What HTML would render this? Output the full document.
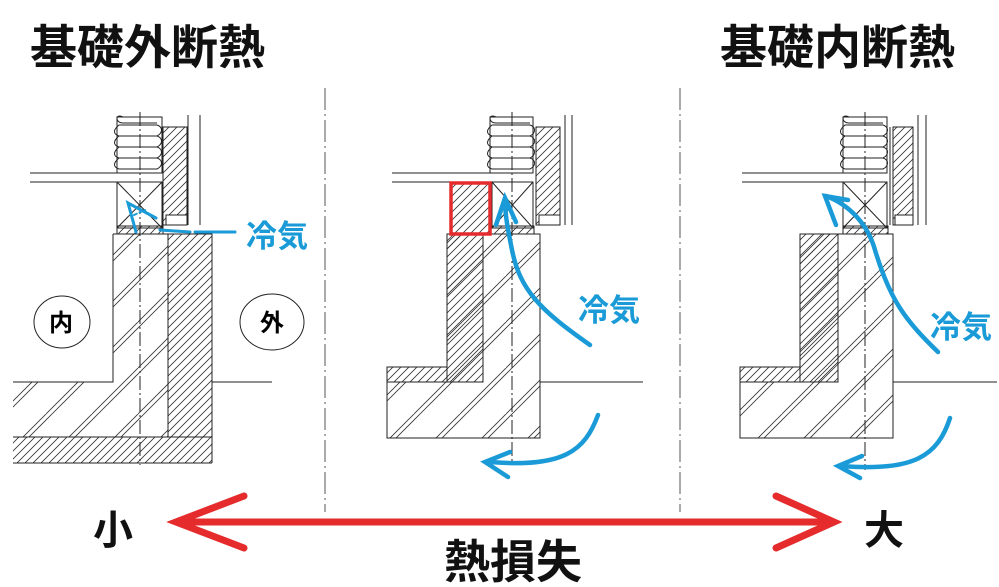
<!DOCTYPE html>
<html><head><meta charset="utf-8"><style>
html,body{margin:0;padding:0;background:#fff;}
svg{display:block}
text{font-family:"Liberation Sans","Noto Sans CJK JP",sans-serif;font-weight:bold}
</style></head><body>
<svg width="999" height="587" viewBox="0 0 999 587" xmlns="http://www.w3.org/2000/svg">
<defs>
<pattern id="h" patternUnits="userSpaceOnUse" width="8" height="8">
<path d="M-2,10 L10,-2 M-2,2 L2,-2 M6,10 L10,6" stroke="#333" stroke-width="0.8"/>
</pattern>
<pattern id="s" patternUnits="userSpaceOnUse" width="46" height="46">
<path d="M-4,50 L50,-4 M-1,53 L53,-1 M-50,50 L50,-50 M-47,53 L53,-47 M0,96 L96,0 M3,99 L99,3" stroke="#333" stroke-width="0.8"/>
</pattern>
</defs>

<g fill="none" stroke="#222" stroke-width="1">
<line x1="325" y1="88" x2="325" y2="512" stroke-dasharray="22,4,2,4" stroke="#555"/>
<line x1="680" y1="88" x2="680" y2="512" stroke-dasharray="22,4,2,4" stroke="#555"/>

<!-- PANEL 1 -->
<path d="M123,117 c-8,-4 -8,6 0,6 h34 M119,125 c-6,5 -6,9 0,11 h38 c6,-3 6,-9 0,-11 z M119,136 c-6,5 -6,9 0,11 h38 c6,-3 6,-9 0,-11 z M119,147 c-6,5 -6,9 0,11 h38 c6,-3 6,-9 0,-11 z M119,158 c-6,5 -6,9 0,11 h38 c6,-3 6,-9 0,-11 z"/>
<rect x="117" y="117" width="45" height="56"/>
<line x1="30" y1="173" x2="162" y2="173"/><line x1="30" y1="182" x2="162" y2="182"/>
<rect x="117" y="182" width="45" height="46"/>
<path d="M117,182 L162,228 M162,182 L117,228"/>
<rect x="117" y="226" width="46" height="8" fill="url(#h)"/>
<rect x="163" y="127" width="24" height="98" fill="url(#h)"/>
<rect x="166" y="215" width="21" height="10" fill="#fff"/>
<line x1="188" y1="115" x2="188" y2="225"/><line x1="200" y1="115" x2="200" y2="225"/>
<rect x="113" y="234" width="55" height="203" fill="url(#s)" stroke="none"/>
<rect x="13" y="382" width="100" height="55" fill="url(#s)" stroke="none"/>
<rect x="168" y="234" width="44" height="203" fill="url(#h)"/>
<path d="M113,234 H212 V437 M113,234 V382 H13"/>
<rect x="13" y="437" width="199" height="26" fill="url(#h)" stroke="none"/>
<line x1="13" y1="437" x2="212" y2="437"/><line x1="13" y1="463" x2="212" y2="463"/><line x1="212" y1="437" x2="212" y2="463"/>
<line x1="212" y1="382" x2="272" y2="382"/>
<line x1="140" y1="112" x2="140" y2="465" stroke-dasharray="14,3,2,3"/>
<ellipse cx="62" cy="322" rx="28" ry="26" fill="#fff"/>
<ellipse cx="272" cy="322" rx="32" ry="28" fill="#fff"/>

<!-- PANEL 2 -->
<path d="M496,117 c-8,-4 -8,6 0,6 h34 M492,125 c-6,5 -6,9 0,11 h38 c6,-3 6,-9 0,-11 z M492,136 c-6,5 -6,9 0,11 h38 c6,-3 6,-9 0,-11 z M492,147 c-6,5 -6,9 0,11 h38 c6,-3 6,-9 0,-11 z M492,158 c-6,5 -6,9 0,11 h38 c6,-3 6,-9 0,-11 z"/>
<line x1="392" y1="173" x2="533" y2="173"/><line x1="392" y1="182" x2="533" y2="182"/>
<rect x="490" y="117" width="43" height="56"/>
<rect x="492" y="182" width="41" height="46"/>
<path d="M492,182 L533,228 M533,182 L492,228"/>
<rect x="450" y="182" width="41" height="52" fill="url(#h)" stroke="none"/>
<rect x="490" y="226" width="44" height="8" fill="url(#h)"/>
<rect x="536" y="127" width="24" height="98" fill="url(#h)"/>
<rect x="539" y="215" width="21" height="10" fill="#fff"/>
<line x1="565" y1="115" x2="565" y2="225"/><line x1="572" y1="115" x2="572" y2="225"/>
<rect x="387" y="382" width="60" height="56" fill="url(#s)" stroke="none"/>
<rect x="447" y="234" width="93" height="204" fill="url(#s)" stroke="none"/>
<path d="M447,382 V234 H540 V438 H387 V367 H447"/>
<rect x="447" y="234" width="36" height="148" fill="url(#h)"/>
<rect x="387" y="367" width="60" height="15" fill="url(#h)"/>
<line x1="540" y1="382" x2="643" y2="382"/>
<line x1="512" y1="112" x2="512" y2="462" stroke-dasharray="14,3,2,3"/>
<rect x="451" y="183" width="39" height="51" stroke="#e52b2b" stroke-width="3.5"/>

<!-- PANEL 3 -->
<path d="M849,117 c-8,-4 -8,6 0,6 h34 M845,125 c-6,5 -6,9 0,11 h38 c6,-3 6,-9 0,-11 z M845,136 c-6,5 -6,9 0,11 h38 c6,-3 6,-9 0,-11 z M845,147 c-6,5 -6,9 0,11 h38 c6,-3 6,-9 0,-11 z M845,158 c-6,5 -6,9 0,11 h38 c6,-3 6,-9 0,-11 z"/>
<rect x="843" y="117" width="44" height="56"/>
<line x1="742" y1="173" x2="887" y2="173"/><line x1="742" y1="182" x2="887" y2="182"/>
<rect x="843" y="182" width="44" height="46"/>
<path d="M843,182 L887,228 M887,182 L843,228"/>
<rect x="843" y="226" width="45" height="8" fill="url(#h)"/>
<line x1="890" y1="127" x2="890" y2="225"/>
<rect x="893" y="127" width="20" height="98" fill="url(#h)"/>
<rect x="895" y="215" width="18" height="10" fill="#fff"/>
<line x1="918" y1="115" x2="918" y2="225"/><line x1="926" y1="115" x2="926" y2="225"/>
<rect x="740" y="382" width="60" height="56" fill="url(#s)" stroke="none"/>
<rect x="800" y="234" width="93" height="204" fill="url(#s)" stroke="none"/>
<path d="M800,382 V234 H893 V438 H740 V367 H800"/>
<rect x="800" y="234" width="38" height="148" fill="url(#h)"/>
<rect x="740" y="367" width="60" height="15" fill="url(#h)"/>
<line x1="893" y1="382" x2="997" y2="382"/>
<line x1="865" y1="112" x2="865" y2="470" stroke-dasharray="14,3,2,3"/>
</g>

<g fill="none" stroke="#1a9bd7" stroke-linecap="round">
<path d="M235,232 H195 M190,232 L160,230" stroke-width="3" stroke-dasharray="40,6,12,5"/>
<path d="M136,232 L128,203 L156,218" stroke-width="3"/>
<path d="M134,215 L145,210" stroke-width="2" stroke-dasharray="3,3"/>
<path d="M590,345 C540,310 520,290 512,250 C508,230 505,215 505,200" stroke-width="4.5"/>
<path d="M496,225 L505,198 L516,222" stroke-width="4.5"/>
<path d="M598,415 C585,450 565,468 490,462" stroke-width="4.5"/>
<path d="M510,452 L485,462 L508,477" stroke-width="4.5"/>
<path d="M938,352 C905,320 890,300 875,250 C868,225 850,205 826,196" stroke-width="4.5"/>
<path d="M836,225 L825,196 L848,200" stroke-width="4.5"/>
<path d="M950,418 C938,455 915,472 842,466" stroke-width="4.5"/>
<path d="M862,456 L838,466 L860,478" stroke-width="4.5"/>
</g>

<g fill="#1a9bd7" font-size="31">
<text x="246" y="247">冷気</text>
<text x="578" y="321">冷気</text>
<text x="930" y="338">冷気</text>
</g>

<g fill="#000" font-size="24" font-weight="normal">
<text x="49" y="331">内</text>
<text x="260" y="331">外</text>
</g>

<g fill="#111">
<text x="30" y="64" font-size="47">基礎外断熱</text>
<text x="720" y="64" font-size="47">基礎内断熱</text>
<text x="93" y="544" font-size="40">小</text>
<text x="864" y="544" font-size="40">大</text>
<text x="444" y="578" font-size="46">熱損失</text>
</g>

<g stroke="#e52b2b" stroke-width="7" stroke-linecap="round" fill="none">
<line x1="178" y1="522" x2="832" y2="522"/>
<path d="M244,496 L176,522 L244,548"/>
<path d="M776,496 L834,522 L776,548"/>
</g>
</svg>
</body></html>
